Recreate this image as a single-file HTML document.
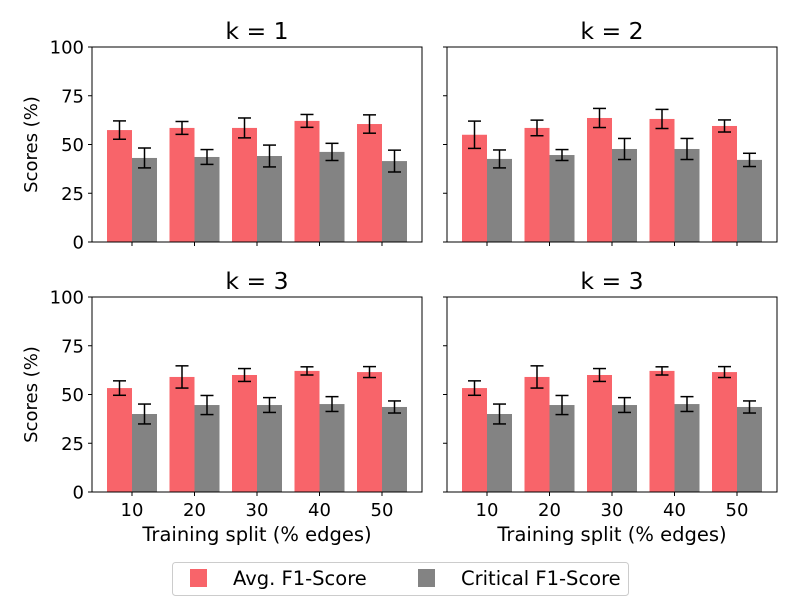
<!DOCTYPE html>
<html><head><meta charset="utf-8"><style>
body{margin:0;background:#fff;}
svg{display:block;font-family:"DejaVu Sans","Liberation Sans",sans-serif;}
</style></head><body>
<svg id="chart" width="800" height="600" viewBox="0 0 800 600"></svg>
<script>
const categories=[10,20,30,40,50];
const titles=["k = 1","k = 2","k = 3","k = 3"];
const avgVals=[[57.4,58.5,58.5,62.1,60.5],[55.0,58.5,63.6,63.1,59.5],[53.3,59.0,60.0,62.1,61.5],[53.3,59.0,60.0,62.1,61.5]];
const avgErr=[[4.7,3.3,5.1,3.3,4.7],[7.0,4.0,4.9,4.9,3.1],[3.7,5.7,3.3,2.1,2.8],[3.7,5.7,3.3,2.1,2.8]];
const critVals=[[43.1,43.6,44.1,46.2,41.5],[42.6,44.6,47.7,47.7,42.1],[40.0,44.6,44.6,45.1,43.6],[40.0,44.6,44.6,45.1,43.6]];
const critErr=[[5.1,3.8,5.6,4.4,5.6],[4.6,2.8,5.4,5.4,3.4],[5.1,4.9,3.8,3.8,3.1],[5.1,4.9,3.8,3.8,3.1]];
const yTicks=[0,25,50,75,100];

const NS="http://www.w3.org/2000/svg";
const svg=document.getElementById('chart');
function mk(tag,attrs,parent,text){const e=document.createElementNS(NS,tag);for(const k in attrs)e.setAttribute(k,attrs[k]);if(text!==undefined)e.textContent=text;(parent||svg).appendChild(e);return e;}
const panels=[{x:92,y:47},{x:447,y:47},{x:92,y:297},{x:447,y:297}];
const W=330,H=195;
panels.forEach((p,pi)=>{
  const g=mk('g',{});
  
  
  const xs=i=>p.x+(i+0.64)*W/5.28;
  const ys=v=>p.y+H-v*H/100;
  const bw=0.4*W/5.28;
  categories.forEach((c,i)=>{
    const r=mk('rect',{x:xs(i)-bw,y:ys(avgVals[pi][i]),width:bw,height:ys(0)-ys(avgVals[pi][i]),fill:'#f8646a'},g);
    
    
    const r2=mk('rect',{x:xs(i),y:ys(critVals[pi][i]),width:bw,height:ys(0)-ys(critVals[pi][i]),fill:'#838383'},g);
    
    
    [[xs(i)-bw/2,avgVals[pi][i],avgErr[pi][i]],[xs(i)+bw/2,critVals[pi][i],critErr[pi][i]]].forEach(([cx,v,e])=>{
      const eg=mk('g',{stroke:'#000','stroke-width':1.5},g);
      
      
      mk('line',{x1:cx,x2:cx,y1:ys(v-e),y2:ys(v+e)},eg);
      mk('line',{x1:cx-6.5,x2:cx+6.5,y1:ys(v-e),y2:ys(v-e)},eg);
      mk('line',{x1:cx-6.5,x2:cx+6.5,y1:ys(v+e),y2:ys(v+e)},eg);
    });
    mk('line',{x1:xs(i),x2:xs(i),y1:p.y+H,y2:p.y+H+4,stroke:'#000'},g);
    if(pi>=2){
      const t=mk('text',{x:xs(i),y:p.y+H+24,'text-anchor':'middle','font-size':18},g,c);
      
      
    }
  });
  yTicks.forEach(v=>{
    mk('line',{x1:p.x-4,x2:p.x,y1:ys(v),y2:ys(v),stroke:'#000'},g);
    if(pi%2===0){
      const t=mk('text',{x:p.x-8,y:ys(v)+6.5,'text-anchor':'end','font-size':18},g,v);
      
      
    }
  });
  const fr=mk('rect',{x:p.x,y:p.y,width:W,height:H,fill:'none',stroke:'#000','stroke-width':1},g);
  
  
  const tt=mk('text',{x:p.x+W/2,y:p.y-8,'text-anchor':'middle','font-size':23.5},g,titles[pi]);
  
  
  if(pi%2===0){
    const yl=mk('text',{x:0,y:0,'text-anchor':'middle','font-size':18,transform:`translate(37,${p.y+H/2}) rotate(-90)`},g,'Scores (%)');
    
    
  }
  if(pi>=2){
    const xl=mk('text',{x:p.x+W/2,y:541,'text-anchor':'middle','font-size':19.5},g,'Training split (% edges)');
    
    
  }
});
const lg=mk('g',{});


mk('rect',{x:172.5,y:562.5,width:456,height:33,rx:3,fill:'#fff',stroke:'#ccc'},lg);
const e1=mk('g',{},lg);


mk('rect',{x:190,y:569,width:17,height:18,fill:'#f8646a'},e1);
mk('text',{x:233,y:585,'font-size':19.5},e1,'Avg. F1-Score');
const e2=mk('g',{},lg);


mk('rect',{x:418,y:569,width:17,height:18,fill:'#838383'},e2);
mk('text',{x:461,y:585,'font-size':19.5},e2,'Critical F1-Score');
</script>
</body></html>
